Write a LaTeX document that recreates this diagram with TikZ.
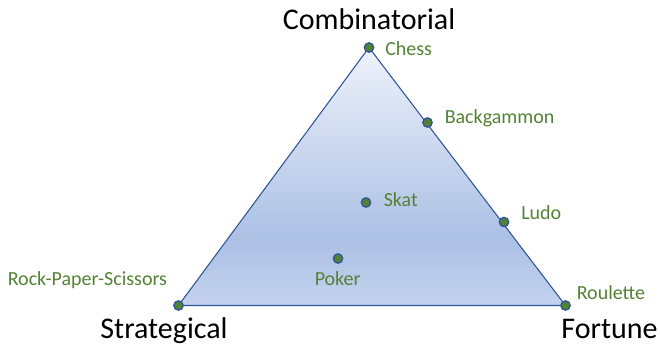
\documentclass[tikz,border=0pt]{standalone}
\usepackage{fontspec}
\setsansfont{Carlito}
\definecolor{gamegreen}{RGB}{84,130,53}
\definecolor{edgeblue}{RGB}{47,85,151}
\definecolor{shadetop}{RGB}{238,242,250}
\definecolor{shademid}{RGB}{172,192,229}
\definecolor{shadebot}{RGB}{196,210,238}
\tikzset{every picture/.style={/utils/exec={\sffamily}}}
\usetikzlibrary{positioning}
\usetikzlibrary{backgrounds}
\pgfdeclareverticalshading{gameshade}{100bp}{color(0bp)=(shadebot); color(25bp)=(shadebot); color(38bp)=(shademid); color(75bp)=(shadetop); color(100bp)=(shadetop)}

\begin{document}
\begin{tikzpicture}[x=0.75bp, y=-0.75bp,
    game/.style={circle, draw=edgeblue, line width=1bp, fill=gamegreen, inner sep=0, minimum size=7bp},
    gamelabel/.style={anchor=base west, inner sep=0, text=gamegreen, font=\fontsize{15bp}{18bp}\selectfont},
    corner/.style={anchor=base, inner sep=0, font=\fontsize{22.5bp}{27bp}\selectfont}]
  \useasboundingbox (0,0) rectangle (660,345);

    % games on the triangle
    \node [game] (chess) at (369,47.5) {};
    \node [game] (rps) at (178.5,305.5) {};
    \node [game] (roulette) at (565.5,305.5) {};
    \node [game] (backgammon) at (427.5,122.5) {};
    \node [game] (ludo) at (504,222) {};
    \node [game] (skat) at (366,202.5) {};
    \node [game] (poker) at (338,258.5) {};

    \begin{scope}[on background layer]
      \shade [shading=gameshade] (chess.center) -- (rps.center) -- (roulette.center) -- cycle;
      \draw [edgeblue, line width=0.8bp] (chess.center) -- (rps.center) -- (roulette.center) -- cycle;
    \end{scope}

    \node [corner] (combinatorial) at (369,29.5) {Combinatorial};
    \node [corner] (strategical) at (164,338) {Strategical};
    \node [corner] (fortune) at (609.5,338.5) {Fortune};

    \node [gamelabel] (chesslabel) at (385,55) {Chess};
    \node [gamelabel] (backgammonlabel) at (444.5,123) {Backgammon};
    \node [gamelabel] (ludolabel) at (521,219.3) {Ludo};
    \node [gamelabel] (skatlabel) at (383.5,206.7) {Skat};
    \node [gamelabel] (pokerlabel) at (314.5,285) {Poker};
    \node [gamelabel] (rpslabel) at (7.5,285) {Rock-Paper-Scissors};
    \node [gamelabel] (roulettelabel) at (576.5,299.3) {Roulette};
\end{tikzpicture}
\end{document}
